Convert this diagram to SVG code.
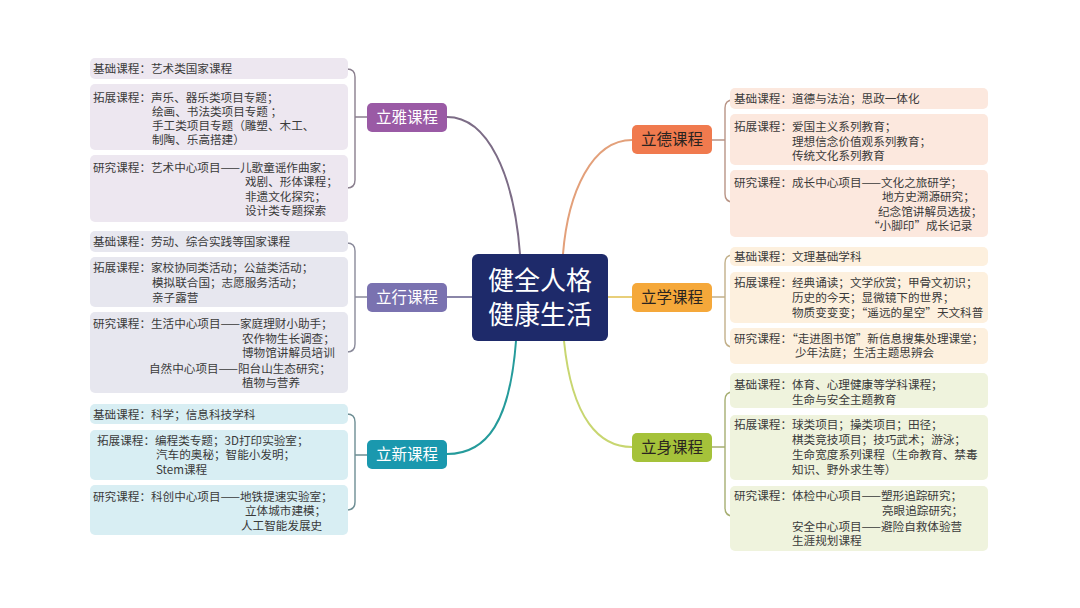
<svg xmlns="http://www.w3.org/2000/svg" width="1080" height="608" viewBox="0 0 1080 608">
<style>
.t{font-family:"Noto Sans CJK SC","Noto Sans",sans-serif;font-size:11.6px;fill:#3a3a3a}
.n{font-family:"Noto Sans CJK SC","Noto Sans",sans-serif;font-size:15.5px;text-anchor:middle}
.w{fill:#ffffff}
.d{fill:#2a2420}
.c{font-family:"Noto Sans CJK SC","Noto Sans",sans-serif;font-size:26px;fill:#ffffff;text-anchor:middle}
.ln{fill:none;stroke-width:2;stroke-linecap:round}
.br{fill:none;stroke-width:1.4}
</style>
<rect width="1080" height="608" fill="#ffffff"/>
<g id="connectors">
<path class="ln" d="M447,117 C488,117 514,175 520,254" stroke="#7c6c86"/>
<path class="ln" d="M563,254 C568,192 592,140 632,140" stroke="#e3a07a"/>
<path class="ln" d="M447,297 H472" stroke="#8a86a8"/>
<path class="ln" d="M608,297 H632" stroke="#e8cf7a"/>
<path class="ln" d="M516,341 C510,420 488,454 447,454" stroke="#259b9b"/>
<path class="ln" d="M564,341 C572,420 600,447 632,447" stroke="#c8d670"/>
<path class="br" d="M347,69 Q355,69 355,77 V180 Q355,188 347,188 M355,117 H367" stroke="#8a7f8e"/>
<path class="br" d="M347,243 Q355,243 355,251 V344 Q355,352 347,352 M355,297 H367" stroke="#8a8a9a"/>
<path class="br" d="M347,414 Q355,414 355,422 V502 Q355,510 347,510 M355,455 H367" stroke="#6e8e94"/>
<path class="br" d="M733,100 Q725,100 725,108 V194 Q725,202 733,202 M712,140 H725" stroke="#b89486"/>
<path class="br" d="M733,255 Q725,255 725,263 V339 Q725,347 733,347 M712,297 H725" stroke="#c2b08a"/>
<path class="br" d="M733,392 Q725,392 725,400 V508 Q725,516 733,516 M712,447 H725" stroke="#a6ae72"/>
</g>
<g id="center">
<rect x="472" y="254" width="136" height="87" rx="6" fill="#1e2a6a"/>
<text class="c" x="540" y="290">健全人格</text>
<text class="c" x="540" y="324">健康生活</text>
</g>
<g id="liya">
<rect x="367" y="103" width="80" height="29" rx="5" fill="#9a5aa5"/>
<text class="n w" x="407" y="123">立雅课程</text>
</g>
<g id="liya-items">
<rect x="90" y="58" width="258" height="21" rx="5" fill="#ede7f0"/>
<text class="t" x="93" y="73">基础课程：艺术类国家课程</text>
<rect x="90" y="84" width="258" height="66" rx="5" fill="#ede7f0"/>
<text class="t" x="93" y="102">拓展课程：声乐、器乐类项目专题；</text>
<text class="t" x="152" y="116">绘画、书法类项目专题 ；</text>
<text class="t" x="152" y="130">手工类项目专题（雕塑、木工、</text>
<text class="t" x="152" y="144">制陶、乐高搭建）</text>
<rect x="90" y="155" width="258" height="67" rx="5" fill="#ede7f0"/>
<text class="t" x="93" y="172">研究课程：艺术中心项目——儿歌童谣作曲家；</text>
<text class="t" x="245" y="186">戏剧、形体课程；</text>
<text class="t" x="245" y="201">非遗文化探究；</text>
<text class="t" x="245" y="215">设计类专题探索</text>
</g>
<g id="lixing">
<rect x="367" y="283" width="80" height="29" rx="5" fill="#7a72b0"/>
<text class="n w" x="407" y="303">立行课程</text>
</g>
<g id="lixing-items">
<rect x="90" y="231" width="258" height="21" rx="5" fill="#e7e7ef"/>
<text class="t" x="93" y="246">基础课程：劳动、综合实践等国家课程</text>
<rect x="90" y="257" width="258" height="50" rx="5" fill="#e7e7ef"/>
<text class="t" x="93" y="272">拓展课程：家校协同类活动；公益类活动；</text>
<text class="t" x="152" y="287">模拟联合国；志愿服务活动；</text>
<text class="t" x="152" y="302">亲子露营</text>
<rect x="90" y="312" width="258" height="81" rx="5" fill="#e7e7ef"/>
<text class="t" x="93" y="328">研究课程：生活中心项目——家庭理财小助手；</text>
<text class="t" x="242" y="343">农作物生长调查；</text>
<text class="t" x="242" y="357">博物馆讲解员培训</text>
<text class="t" x="149" y="373">自然中心项目——阳台山生态研究；</text>
<text class="t" x="242" y="387">植物与营养</text>
</g>
<g id="lixin">
<rect x="367" y="440" width="80" height="29" rx="5" fill="#1a98ae"/>
<text class="n w" x="407" y="460">立新课程</text>
</g>
<g id="lixin-items">
<rect x="90" y="404" width="258" height="20" rx="5" fill="#d8eef3"/>
<text class="t" x="93" y="419">基础课程：科学；信息科技学科</text>
<rect x="90" y="430" width="258" height="50" rx="5" fill="#d8eef3"/>
<text class="t" x="97" y="445">拓展课程：编程类专题；3D打印实验室；</text>
<text class="t" x="156" y="459">汽车的奥秘；智能小发明；</text>
<text class="t" x="156" y="474">Stem课程</text>
<rect x="90" y="485" width="258" height="50" rx="5" fill="#d8eef3"/>
<text class="t" x="93" y="501">研究课程：科创中心项目——地铁提速实验室；</text>
<text class="t" x="245" y="515">立体城市建模；</text>
<text class="t" x="241" y="530">人工智能发展史</text>
</g>
<g id="lide">
<rect x="632" y="125" width="80" height="29" rx="5" fill="#f07a4e"/>
<text class="n d" x="672" y="145">立德课程</text>
</g>
<g id="lide-items">
<rect x="730" y="88" width="258" height="21" rx="5" fill="#fce8de"/>
<text class="t" x="734" y="103">基础课程：道德与法治；思政一体化</text>
<rect x="730" y="114" width="258" height="51" rx="5" fill="#fce8de"/>
<text class="t" x="734" y="131">拓展课程：爱国主义系列教育；</text>
<text class="t" x="792" y="146">理想信念价值观系列教育；</text>
<text class="t" x="792" y="160">传统文化系列教育</text>
<rect x="730" y="170" width="258" height="67" rx="5" fill="#fce8de"/>
<text class="t" x="734" y="187">研究课程：成长中心项目——文化之旅研学；</text>
<text class="t" x="882" y="201">地方史溯源研究；</text>
<text class="t" x="878" y="216">纪念馆讲解员选拔；</text>
<text class="t" x="868" y="230">“小脚印”成长记录</text>
</g>
<g id="lixue">
<rect x="632" y="283" width="80" height="29" rx="5" fill="#f5a83a"/>
<text class="n d" x="672" y="303">立学课程</text>
</g>
<g id="lixue-items">
<rect x="730" y="247" width="258" height="19" rx="5" fill="#fdf0de"/>
<text class="t" x="734" y="261">基础课程：文理基础学科</text>
<rect x="730" y="272" width="258" height="51" rx="5" fill="#fdf0de"/>
<text class="t" x="734" y="287">拓展课程：经典诵读；文学欣赏；甲骨文初识；</text>
<text class="t" x="792" y="302">历史的今天；显微镜下的世界；</text>
<text class="t" x="792" y="317">物质变变变；“遥远的星空”天文科普</text>
<rect x="730" y="328" width="258" height="36" rx="5" fill="#fdf0de"/>
<text class="t" x="734" y="343">研究课程：“走进图书馆”新信息搜集处理课堂；</text>
<text class="t" x="795" y="357">少年法庭；生活主题思辨会</text>
</g>
<g id="lishen">
<rect x="632" y="433" width="80" height="29" rx="5" fill="#a5c23a"/>
<text class="n d" x="672" y="453">立身课程</text>
</g>
<g id="lishen-items">
<rect x="730" y="373" width="258" height="35" rx="5" fill="#eff3dd"/>
<text class="t" x="734" y="389">基础课程：体育、心理健康等学科课程；</text>
<text class="t" x="792" y="404">生命与安全主题教育</text>
<rect x="730" y="415" width="258" height="65" rx="5" fill="#eff3dd"/>
<text class="t" x="734" y="429">拓展课程：球类项目；操类项目；田径；</text>
<text class="t" x="792" y="444">棋类竞技项目；技巧武术；游泳；</text>
<text class="t" x="792" y="459">生命宽度系列课程（生命教育、禁毒</text>
<text class="t" x="792" y="474">知识、野外求生等）</text>
<rect x="730" y="486" width="258" height="65" rx="5" fill="#eff3dd"/>
<text class="t" x="734" y="500">研究课程：体检中心项目——塑形追踪研究；</text>
<text class="t" x="882" y="515">亮眼追踪研究；</text>
<text class="t" x="792" y="531">安全中心项目——避险自救体验营</text>
<text class="t" x="792" y="545">生涯规划课程</text>
</g>
</svg>
